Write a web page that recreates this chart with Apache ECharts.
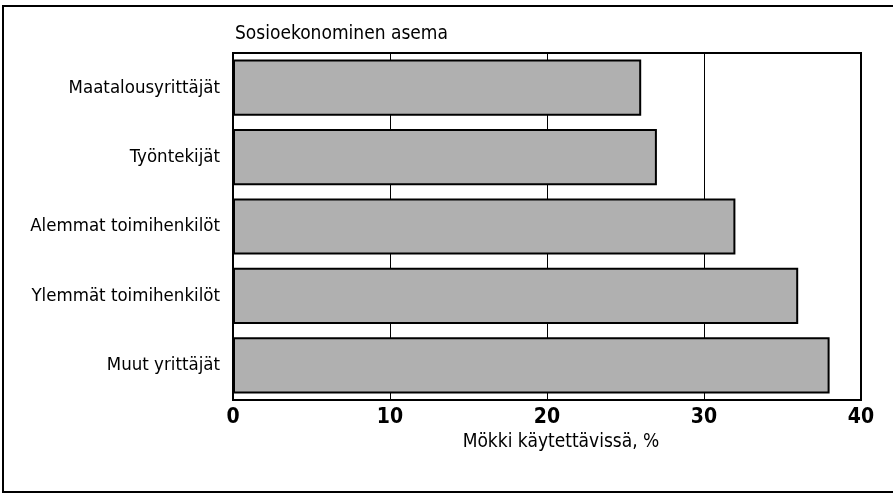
<!DOCTYPE html>
<html>
<head>
<meta charset="utf-8">
<script src="https://cdn.jsdelivr.net/npm/echarts@6/dist/echarts.min.js"></script>
<style>
  html, body { margin: 0; padding: 0; background: #fff; }
  #chart { width: 893px; height: 494px; }
</style>
</head>
<body>
<div id="chart"></div>
<script>
// categories top to bottom
const categories = ['Maatalousyrittäjät', 'Työntekijät', 'Alemmat toimihenkilöt', 'Ylemmät toimihenkilöt', 'Muut yrittäjät'];
const values = [26, 27, 32, 36, 38];
const xTicks = [0, 10, 20, 30, 40];

const font = '"Liberation Sans Narrow", "DejaVu Sans Condensed", sans-serif';

const chart = echarts.init(document.getElementById('chart'));
chart.setOption({
  animation: false,
  backgroundColor: '#fff',
  textStyle: { fontFamily: font },
  graphic: [
    {
      type: 'rect',
      shape: { x: 3, y: 6, width: 900, height: 486 },
      style: { fill: 'none', stroke: '#000', lineWidth: 2 },
      silent: true
    },
    {
      type: 'text',
      left: 235, top: 25,
      style: { text: 'Sosioekonominen asema', font: '19px ' + font, fill: '#000' }
    }
  ],
  grid: { left: 233, right: 32, top: 53, bottom: 94, show: true, borderColor: '#000', borderWidth: 2 },
  xAxis: {
    type: 'value',
    min: xTicks[0], max: xTicks[xTicks.length - 1], interval: 10,
    name: 'Mökki käytettävissä, %',
    nameLocation: 'middle', nameGap: 30,
    nameTextStyle: { fontSize: 19, color: '#000', fontFamily: font, padding: [0, 0, 0, 28] },
    axisLine: { show: false },
    axisTick: { show: false },
    axisLabel: { fontSize: 21, fontWeight: 'bold', color: '#000', margin: 7, fontFamily: font },
    splitLine: { show: true, lineStyle: { color: '#000', width: 1 } }
  },
  yAxis: {
    type: 'category',
    data: categories,
    inverse: true,
    axisLine: { show: false },
    axisTick: { show: false },
    axisLabel: { fontSize: 18.5, color: '#000', margin: 13, fontFamily: font }
  },
  series: [{
    type: 'bar',
    data: values,
    barCategoryGap: '19%',
    itemStyle: { color: '#b0b0b0', borderColor: '#000', borderWidth: 2 }
  }]
});
</script>
</body>
</html>
